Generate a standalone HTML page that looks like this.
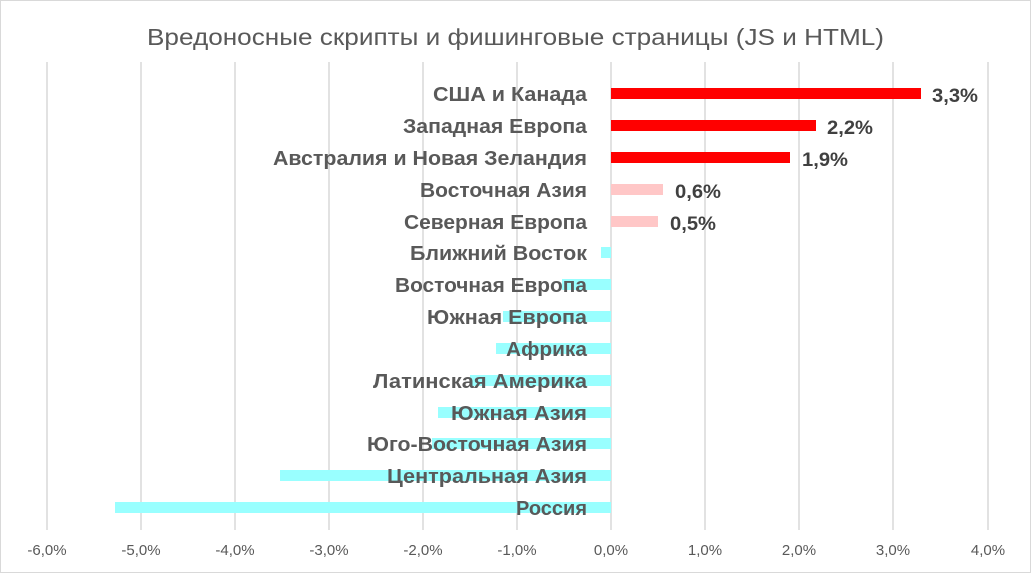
<!DOCTYPE html>
<html><head><meta charset="utf-8"><style>
body{margin:0;background:#fff}
svg{display:block;font-family:"Liberation Sans","DejaVu Sans",sans-serif}
</style></head><body>
<svg width="1031" height="573" viewBox="0 0 1031 573">
<rect x="0.5" y="0.5" width="1030" height="572" fill="#fff" stroke="#d9d9d9"/>
<text x="147" y="45" font-size="23" fill="#595959" textLength="737" lengthAdjust="spacingAndGlyphs">Вредоносные скрипты и фишинговые страницы (JS и HTML)</text>
<g stroke="#d9d9d9" stroke-width="1.5">
<line x1="47" y1="62" x2="47" y2="530"/><line x1="141" y1="62" x2="141" y2="530"/><line x1="235" y1="62" x2="235" y2="530"/><line x1="329" y1="62" x2="329" y2="530"/><line x1="423" y1="62" x2="423" y2="530"/><line x1="517" y1="62" x2="517" y2="530"/><line x1="611" y1="62" x2="611" y2="530"/><line x1="705" y1="62" x2="705" y2="530"/><line x1="799" y1="62" x2="799" y2="530"/><line x1="893" y1="62" x2="893" y2="530"/><line x1="988" y1="62" x2="988" y2="530"/>
</g>
<g font-size="15" fill="#595959" text-anchor="middle">
<text x="47" y="555">-6,0%</text><text x="141" y="555">-5,0%</text><text x="235" y="555">-4,0%</text><text x="329" y="555">-3,0%</text><text x="423" y="555">-2,0%</text><text x="517" y="555">-1,0%</text><text x="611" y="555">0,0%</text><text x="705" y="555">1,0%</text><text x="799" y="555">2,0%</text><text x="893" y="555">3,0%</text><text x="988" y="555">4,0%</text>
</g>
<g fill="#ff0000">
<rect x="611" y="88" width="310" height="11"/><rect x="611" y="120" width="205" height="11"/><rect x="611" y="152" width="179" height="11"/>
</g>
<g fill="#ffc7c7">
<rect x="611" y="184" width="52" height="11"/><rect x="611" y="216" width="47" height="11"/>
</g>
<g fill="#99ffff">
<rect x="601" y="247" width="10" height="11"/>
<rect x="562" y="279" width="49" height="11"/>
<rect x="503" y="311" width="108" height="11"/>
<rect x="496" y="343" width="115" height="11"/>
<rect x="470" y="375" width="141" height="11"/>
<rect x="438" y="407" width="173" height="11"/>
<rect x="432" y="438" width="179" height="11"/>
<rect x="280" y="470" width="331" height="11"/>
<rect x="115" y="502" width="496" height="11"/>
</g>
<g font-size="20" font-weight="bold" fill="#595959">
<text x="433" y="101" textLength="154" lengthAdjust="spacingAndGlyphs">США и Канада</text>
<text x="403" y="133" textLength="184" lengthAdjust="spacingAndGlyphs">Западная Европа</text>
<text x="273" y="165" textLength="314" lengthAdjust="spacingAndGlyphs">Австралия и Новая Зеландия</text>
<text x="420" y="197" textLength="167" lengthAdjust="spacingAndGlyphs">Восточная Азия</text>
<text x="404" y="229" textLength="183" lengthAdjust="spacingAndGlyphs">Северная Европа</text>
<text x="410" y="260" textLength="177" lengthAdjust="spacingAndGlyphs">Ближний Восток</text>
<text x="395" y="292" textLength="192" lengthAdjust="spacingAndGlyphs">Восточная Европа</text>
<text x="427" y="324" textLength="160" lengthAdjust="spacingAndGlyphs">Южная Европа</text>
<text x="506" y="356" textLength="81" lengthAdjust="spacingAndGlyphs">Африка</text>
<text x="373" y="388" textLength="214" lengthAdjust="spacingAndGlyphs">Латинская Америка</text>
<text x="451" y="420" textLength="136" lengthAdjust="spacingAndGlyphs">Южная Азия</text>
<text x="367" y="451" textLength="220" lengthAdjust="spacingAndGlyphs">Юго-Восточная Азия</text>
<text x="387" y="483" textLength="200" lengthAdjust="spacingAndGlyphs">Центральная Азия</text>
<text x="516" y="515" textLength="71" lengthAdjust="spacingAndGlyphs">Россия</text>
</g>
<g font-size="19" font-weight="bold" fill="#404040">
<text x="932" y="102" textLength="46" lengthAdjust="spacingAndGlyphs">3,3%</text>
<text x="827" y="134" textLength="46" lengthAdjust="spacingAndGlyphs">2,2%</text>
<text x="802" y="166" textLength="46" lengthAdjust="spacingAndGlyphs">1,9%</text>
<text x="675" y="198" textLength="46" lengthAdjust="spacingAndGlyphs">0,6%</text>
<text x="670" y="230" textLength="46" lengthAdjust="spacingAndGlyphs">0,5%</text>
</g>
</svg>
</body></html>
